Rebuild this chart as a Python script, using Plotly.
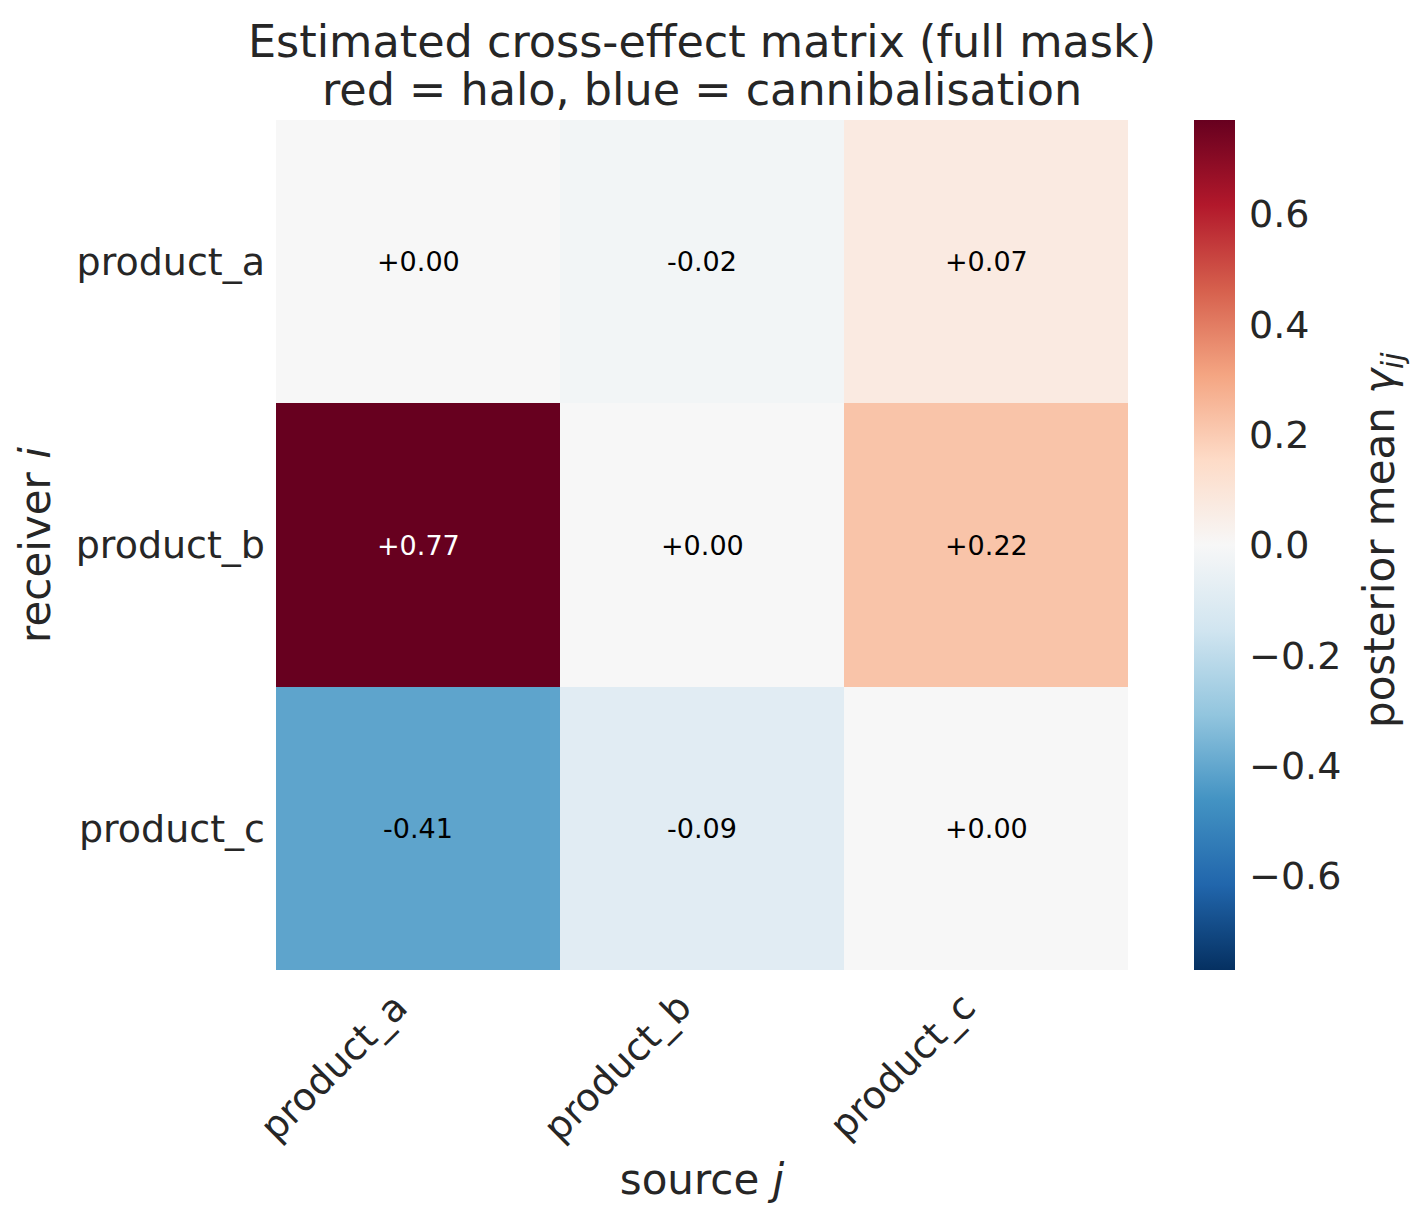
import plotly.graph_objects as go

sources = ["product_a", "product_b", "product_c"]
receivers = ["product_a", "product_b", "product_c"]
gamma = [
    [0.00, -0.02, 0.07],
    [0.77, 0.00, 0.22],
    [-0.41, -0.09, 0.00],
]
cbar_vals = [-0.6, -0.4, -0.2, 0.0, 0.2, 0.4, 0.6]
cbar_text = ["\u22120.6", "\u22120.4", "\u22120.2", "0.0", "0.2", "0.4", "0.6"]
title_lines = ["Estimated cross-effect matrix (full mask)", "red = halo, blue = cannibalisation"]

rdbu_r = ['rgb(5,48,97)', 'rgb(33,102,172)', 'rgb(67,147,195)', 'rgb(146,197,222)',
          'rgb(209,229,240)', 'rgb(247,247,247)', 'rgb(253,219,199)', 'rgb(244,165,130)',
          'rgb(214,96,77)', 'rgb(178,24,43)', 'rgb(103,0,31)']
cscale = [[i / (len(rdbu_r) - 1), c] for i, c in enumerate(rdbu_r)]

vmax = max(abs(v) for row in gamma for v in row)
FONT = "DejaVu Sans"
TXT = "#262626"

# figure geometry (page has an 8px body margin)
W, H = 1412, 1215
L, T, PW, PH = 268, 112, 852, 850


def px(xf):
    return (xf - L) / PW


def py(yf):
    return (T + PH - yf) / PH


fig = go.Figure(go.Heatmap(
    z=gamma, x=sources, y=receivers,
    colorscale=cscale, zmin=-vmax, zmax=vmax,
    xgap=0, ygap=0,
    colorbar=dict(
        thickness=41, len=1, lenmode="fraction", y=0.5, yanchor="middle",
        x=px(1186), xanchor="left", xpad=0, ypad=0, outlinewidth=0,
        tickvals=cbar_vals, ticktext=cbar_text, ticks="outside", ticklen=7,
        tickcolor="rgba(0,0,0,0)",
        tickfont=dict(family=FONT, size=38, color=TXT),
    ),
    hoverinfo="skip",
))

annotations = []
for i, r in enumerate(receivers):
    for j, s in enumerate(sources):
        v = gamma[i][j]
        annotations.append(dict(
            x=s, y=r, xref="x", yref="y", text=f"{v:+.2f}", showarrow=False,
            font=dict(family=FONT, size=27, color="white" if abs(v) > 0.6 * vmax else "black"),
        ))

# title lines
for k, (line, yc) in enumerate(zip(title_lines, [34, 82])):
    annotations.append(dict(
        text=line, x=0.5, y=py(yc), xref="paper", yref="paper",
        xanchor="center", yanchor="middle", showarrow=False,
        font=dict(family=FONT, size=44.5, color=TXT),
    ))

# colorbar label
annotations.append(dict(
    text="posterior mean <i>\u03b3<sub>ij</sub></i>", x=px(1374), y=py(532),
    xref="paper", yref="paper", xanchor="center", yanchor="middle",
    textangle=-90, showarrow=False,
    font=dict(family=FONT, size=42, color=TXT),
))

fig.update_layout(
    width=W, height=H,
    margin=dict(l=L, r=W - L - PW, t=T, b=H - T - PH, autoexpand=False),
    paper_bgcolor="white", plot_bgcolor="white",
    font=dict(family=FONT, color=TXT),
    annotations=annotations,
    xaxis=dict(tickangle=-45, tickfont=dict(family=FONT, size=38, color=TXT), ticks="",
               ticklabelshift=-22, ticklabelstandoff=6,
               showgrid=False, zeroline=False, showline=False, automargin=False,
               title=dict(text="source <i>j</i>", font=dict(family=FONT, size=42, color=TXT), standoff=15)),
    yaxis=dict(autorange="reversed", tickfont=dict(family=FONT, size=38, color=TXT), ticks="",
               ticklabelstandoff=10, automargin=False,
               showgrid=False, zeroline=False, showline=False,
               title=dict(text="receiver <i>i</i>", font=dict(family=FONT, size=42, color=TXT), standoff=12)),
)

fig.write_html("out.html")
